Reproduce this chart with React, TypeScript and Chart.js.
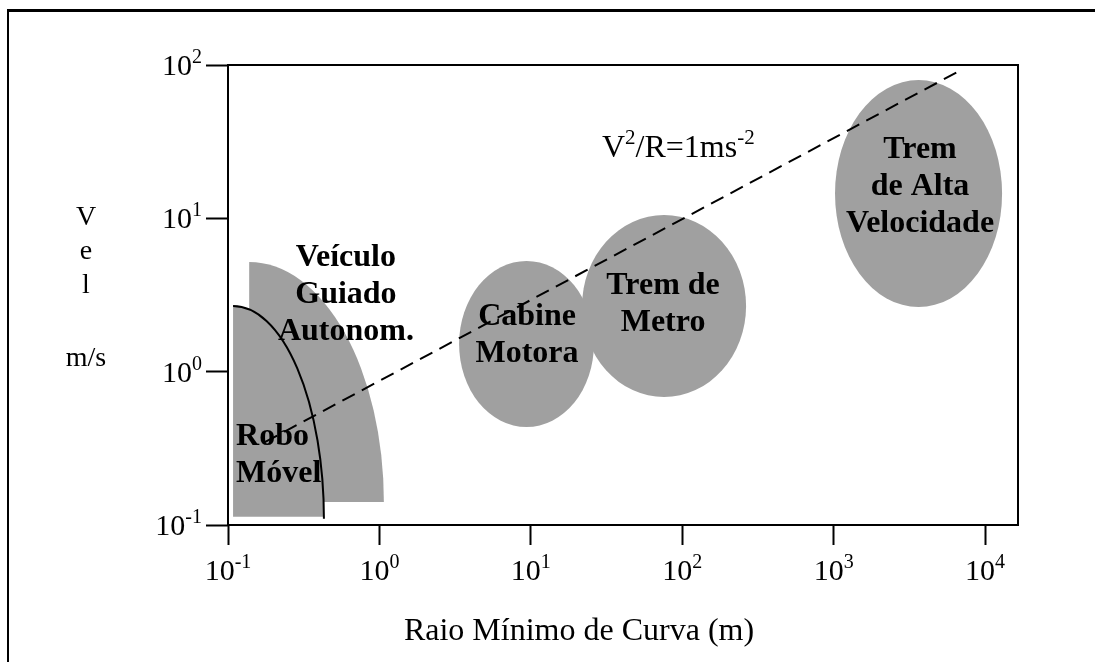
import React, { useEffect, useRef } from "react";
import { Chart, registerables } from "chart.js";

Chart.register(...registerables);

// ---- data ----
const xTickExponents = [-1, 0, 1, 2, 3, 4];
const yTickExponents = [-1, 0, 1, 2];
const xMin = 0.1;
const xMax = 16500;
const yMin = 0.1;
const yMax = 100;

// dashed line V^2/R = 1 m s^-2
const lineR = [0.175, 7160];
const lineV = [0.347, 94.2];
const lineLabelR = 29.5;
const lineLabelV = 25.1;

// regions (R range in m, V range in m/s)
const regionNames = [
  ["Robo", "Móvel"],
  ["Veículo", "Guiado", "Autonom."],
  ["Cabine", "Motora"],
  ["Trem de", "Metro"],
  ["Trem", "de Alta", "Velocidade"],
];
const regionShapes = ["quarter", "quarter", "ellipse", "ellipse", "ellipse"];
const regionRmin = [0.108, 0.138, 3.36, 21.8, 1021];
const regionRmax = [0.43, 1.07, 26.1, 264, 12950];
const regionVmin = [0.113, 0.141, 0.435, 0.684, 2.64];
const regionVmax = [2.68, 5.19, 5.27, 10.5, 79.8];
// label anchors (R, V) of the first text line baseline
const labelR = [0.113, 0.601, 9.44, 74.7, 3720];
const labelV = [0.333, 4.89, 2.01, 3.21, 24.8];
const labelAlign = ["left", "center", "center", "center", "center"];

const SERIF = '"Liberation Serif", "Times New Roman", serif';
const GRAY = "#a0a0a0";

function drawPow(ctx: CanvasRenderingContext2D, exp: number, x: number, y: number, align: string) {
  const base = "10";
  const sup = String(exp);
  ctx.font = `30px ${SERIF}`;
  const w1 = ctx.measureText(base).width;
  ctx.font = `20px ${SERIF}`;
  const w2 = ctx.measureText(sup).width;
  const total = w1 + w2;
  const start = align === "center" ? x - total / 2 : x - total;
  ctx.textAlign = "left";
  ctx.textBaseline = "alphabetic";
  ctx.font = `30px ${SERIF}`;
  ctx.fillText(base, start, y);
  ctx.font = `20px ${SERIF}`;
  ctx.fillText(sup, start + w1, y - 12);
}

function drawParts(ctx: CanvasRenderingContext2D, parts: [string, boolean][], x: number, y: number) {
  let cx = x;
  ctx.textAlign = "left";
  ctx.textBaseline = "alphabetic";
  for (const [t, sup] of parts) {
    ctx.font = sup ? `21px ${SERIF}` : `32px ${SERIF}`;
    ctx.fillText(t, cx, sup ? y - 13 : y);
    cx += ctx.measureText(t).width;
  }
}

const drawPlugin = {
  id: "drawPlugin",
  beforeDatasetsDraw(chart: any) {
    const ctx: CanvasRenderingContext2D = chart.ctx;
    const xs = chart.scales.x;
    const ys = chart.scales.y;
    ctx.save();
    // regions
    for (let i = 0; i < regionNames.length; i++) {
      const l = xs.getPixelForValue(regionRmin[i]);
      const r = xs.getPixelForValue(regionRmax[i]);
      const t = ys.getPixelForValue(regionVmax[i]);
      const b = ys.getPixelForValue(regionVmin[i]);
      ctx.fillStyle = GRAY;
      ctx.beginPath();
      if (regionShapes[i] === "quarter") {
        ctx.moveTo(l, b);
        ctx.lineTo(l, t);
        ctx.ellipse(l, b, r - l, b - t, 0, -Math.PI / 2, 0);
        ctx.closePath();
      } else {
        ctx.ellipse((l + r) / 2, (t + b) / 2, (r - l) / 2, (b - t) / 2, 0, 0, Math.PI * 2);
      }
      ctx.fill();
    }
    // black arc of Robo Movel
    {
      const l = xs.getPixelForValue(regionRmin[0]);
      const r = xs.getPixelForValue(regionRmax[0]);
      const t = ys.getPixelForValue(regionVmax[0]);
      const b = ys.getPixelForValue(regionVmin[0]);
      ctx.strokeStyle = "#000";
      ctx.lineWidth = 2;
      ctx.beginPath();
      ctx.ellipse(l, b + 2, r - l, b + 2 - t, 0, -Math.PI / 2, 0);
      ctx.stroke();
    }
    // labels
    ctx.fillStyle = "#000";
    ctx.font = `bold 32px ${SERIF}`;
    ctx.textBaseline = "alphabetic";
    for (let i = 0; i < regionNames.length; i++) {
      const x = xs.getPixelForValue(labelR[i]);
      const y = ys.getPixelForValue(labelV[i]);
      ctx.textAlign = labelAlign[i] as CanvasTextAlign;
      regionNames[i].forEach((line, k) => {
        ctx.fillText(line, x, y + k * 37);
      });
    }
    ctx.restore();
  },
  afterDraw(chart: any) {
    const ctx: CanvasRenderingContext2D = chart.ctx;
    const xs = chart.scales.x;
    const ys = chart.scales.y;
    const a = chart.chartArea;
    ctx.save();
    ctx.fillStyle = "#000";
    ctx.strokeStyle = "#000";
    // plot box
    ctx.lineWidth = 2;
    ctx.strokeRect(a.left, a.top, a.right - a.left, a.bottom - a.top);
    // page frame
    ctx.fillRect(7, 9, 1088, 3);
    ctx.fillRect(7, 9, 2, 653);
    // tick labels
    for (const e of xTickExponents) {
      drawPow(ctx, e, xs.getPixelForValue(Math.pow(10, e)), a.bottom + 55, "center");
    }
    for (const e of yTickExponents) {
      drawPow(ctx, e, a.left - 26, ys.getPixelForValue(Math.pow(10, e)) + 10, "right");
    }
    // dashed line label
    drawParts(
      ctx,
      [["V", false], ["2", true], ["/R=1ms", false], ["-2", true]],
      xs.getPixelForValue(lineLabelR),
      ys.getPixelForValue(lineLabelV)
    );
    // axis titles
    ctx.font = `32px ${SERIF}`;
    ctx.textAlign = "center";
    ctx.textBaseline = "alphabetic";
    ctx.fillText("Raio Mínimo de Curva (m)", 579, 640);
    ctx.font = `28px ${SERIF}`;
    ctx.fillText("V", 86, 225);
    ctx.fillText("e", 86, 259);
    ctx.fillText("l", 86, 293);
    ctx.fillText("m/s", 86, 366);
    ctx.restore();
  },
};

export default function App() {
  const ref = useRef<HTMLCanvasElement | null>(null);
  useEffect(() => {
    if (!ref.current) return;
    const chart = new Chart(ref.current, {
      type: "scatter",
      data: {
        datasets: [
          {
            label: "V²/R=1ms⁻²",
            data: lineR.map((r, i) => ({ x: r, y: lineV[i] })),
            showLine: true,
            borderColor: "#000",
            borderWidth: 2,
            borderDash: [14, 8],
            pointRadius: 0,
            fill: false,
          },
        ],
      },
      options: {
        responsive: false,
        animation: false,
        devicePixelRatio: 1,
        layout: { padding: { left: 0, right: 77, top: 65, bottom: 0 } },
        plugins: { legend: { display: false }, tooltip: { enabled: false } },
        scales: {
          x: {
            type: "logarithmic",
            position: "bottom",
            min: xMin,
            max: xMax,
            afterBuildTicks: (s: any) => {
              s.ticks = xTickExponents.map((e) => ({ value: Math.pow(10, e) }));
            },
            afterFit: (s: any) => {
              s.height = 137;
            },
            ticks: { display: false },
            grid: {
              display: true,
              drawOnChartArea: false,
              drawTicks: true,
              tickLength: 20,
              tickColor: "#000",
              tickWidth: 2,
            },
            border: { display: false },
          },
          y: {
            type: "logarithmic",
            position: "left",
            min: yMin,
            max: yMax,
            afterBuildTicks: (s: any) => {
              s.ticks = yTickExponents.map((e) => ({ value: Math.pow(10, e) }));
            },
            afterFit: (s: any) => {
              s.width = 228;
            },
            ticks: { display: false },
            grid: {
              display: true,
              drawOnChartArea: false,
              drawTicks: true,
              tickLength: 22,
              tickColor: "#000",
              tickWidth: 2,
            },
            border: { display: false },
          },
        },
      },
      plugins: [drawPlugin],
    } as any);
    return () => chart.destroy();
  }, []);
  return (
    <div style={{ position: "fixed", left: 0, top: 0, width: 1095, height: 662, background: "#fff" }}>
      <canvas ref={ref} width={1095} height={662} style={{ width: 1095, height: 662, display: "block" }} />
    </div>
  );
}
